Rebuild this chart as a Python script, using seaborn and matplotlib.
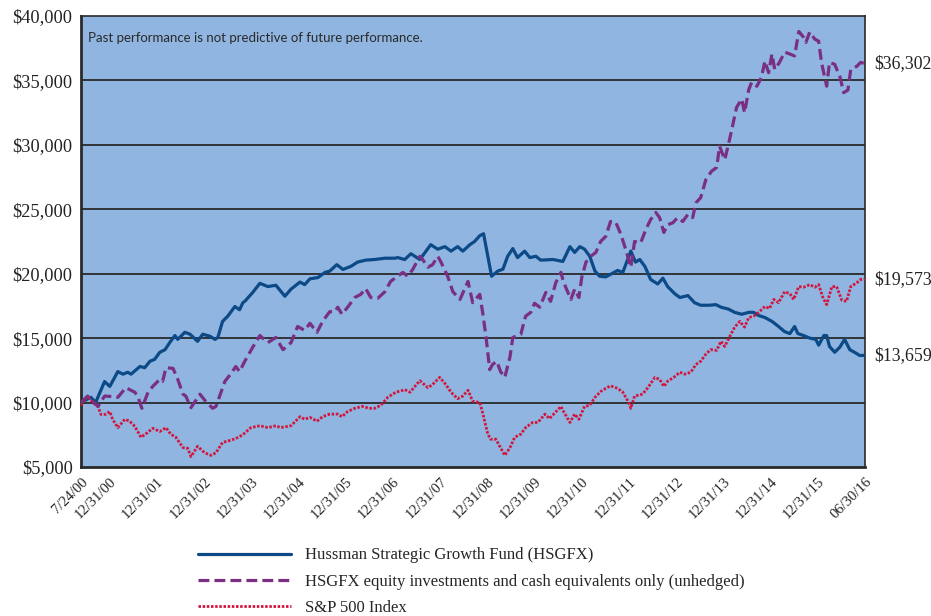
import numpy as np
import pandas as pd
import matplotlib
matplotlib.use("Agg")
import matplotlib.pyplot as plt
import seaborn as sns

# x positions are in chart years: 0 = 12/31/00 ... 15 = 12/31/15, 16 = 06/30/16
tick_pos = [-0.61] + list(range(16)) + [16]
tick_labels = ["7/24/00"] + ["12/31/%02d" % y for y in range(0, 16)] + ["06/30/16"]

# Hussman Strategic Growth Fund (HSGFX)
hsgfx_x = [-0.61, -0.40, -0.30, -0.11, 0.00, 0.17, 0.28, 0.38, 0.45, 0.64, 0.74, 0.85, 0.95,
           1.06, 1.17, 1.27, 1.38, 1.44, 1.59, 1.70, 1.86, 1.97, 2.12, 2.23, 2.29, 2.39, 2.50,
           2.65, 2.75, 2.82, 2.86, 3.03, 3.18, 3.35, 3.52, 3.71, 3.84, 4.03, 4.13, 4.24, 4.41,
           4.56, 4.66, 4.81, 4.94, 5.11, 5.25, 5.42, 5.61, 5.83, 6.04, 6.10, 6.25, 6.38, 6.57,
           6.80, 6.95, 7.10, 7.23, 7.37, 7.48, 7.63, 7.73, 7.84, 7.92, 8.01, 8.09, 8.22, 8.33,
           8.43, 8.54, 8.64, 8.79, 8.90, 9.03, 9.13, 9.39, 9.60, 9.75, 9.85, 9.96, 10.06, 10.17,
           10.28, 10.38, 10.51, 10.66, 10.76, 10.87, 11.04, 11.14, 11.23, 11.34, 11.46, 11.61,
           11.72, 11.82, 11.97, 12.08, 12.25, 12.39, 12.52, 12.71, 12.84, 12.95, 13.11, 13.24,
           13.39, 13.54, 13.64, 13.75, 13.88, 14.03, 14.17, 14.30, 14.41, 14.51, 14.58, 14.70,
           14.83, 14.96, 15.02, 15.13, 15.19, 15.25, 15.36, 15.47, 15.57, 15.68, 15.78, 15.89,
           16.00]
hsgfx_y = [10000, 10400, 10000, 11630, 11250, 12400, 12200, 12350, 12200, 12800, 12700, 13200, 13350,
           13900, 14100, 14650, 15200, 14900, 15450, 15300, 14750, 15300, 15150, 14900, 15050, 16300, 16700,
           17450, 17200, 17750, 17850, 18550, 19250, 19000, 19100, 18250, 18800, 19350, 19150, 19600, 19700,
           20100, 20200, 20700, 20330, 20570, 20900, 21050, 21100, 21200, 21200, 21250, 21100, 21550, 21100,
           22250, 21900, 22100, 21750, 22100, 21750, 22250, 22500, 22950, 23100, 21350, 19800, 20200, 20350,
           21350, 21950, 21250, 21750, 21250, 21350, 21050, 21100, 20950, 22100, 21650, 22100, 21900, 21350,
           20200, 19800, 19750, 20050, 20250, 20100, 21750, 20900, 21100, 20550, 19550, 19200,
           19650, 19000, 18450, 18150, 18300, 17750, 17550, 17550, 17600, 17400, 17250, 17000,
           16850, 17000, 17000, 16750, 16600, 16300, 15900, 15500, 15350, 15900, 15350, 15200,
           15000, 14900, 14450, 15200, 15200, 14350, 13900, 14300, 14900, 14100, 13900, 13650,
           13659]

# HSGFX equity investments and cash equivalents only (unhedged)
unhedged_x = [-0.61, -0.47, -0.25, -0.11, 0.11, 0.17, 0.34, 0.53, 0.59, 0.68, 0.81, 0.91, 1.06,
              1.12, 1.19, 1.34, 1.44, 1.55, 1.61, 1.72, 1.91, 2.03, 2.18, 2.25, 2.44, 2.56, 2.67,
              2.75, 2.86, 3.03, 3.18, 3.35, 3.52, 3.67, 3.84, 3.98, 4.13, 4.24, 4.39, 4.51, 4.66,
              4.77, 4.83, 4.92, 5.04, 5.19, 5.32, 5.42, 5.53, 5.68, 5.83, 5.95, 6.10, 6.21, 6.31,
              6.42, 6.57, 6.63, 6.74, 6.84, 6.95, 7.01, 7.16, 7.27, 7.42, 7.59, 7.69, 7.84, 7.90,
              7.97, 8.05, 8.11, 8.20, 8.28, 8.37, 8.48, 8.54, 8.71, 8.81, 8.92, 9.00, 9.11, 9.24,
              9.34, 9.45, 9.56, 9.60, 9.66, 9.77, 9.85, 9.94, 10.00, 10.09, 10.19, 10.30, 10.40,
              10.51, 10.61, 10.72, 10.83, 10.93, 11.04, 11.12, 11.25, 11.36, 11.46, 11.57, 11.65,
              11.74, 11.82, 11.93, 12.03, 12.14, 12.25, 12.35, 12.42, 12.52, 12.63, 12.75, 12.86,
              12.92, 13.03, 13.11, 13.18, 13.28, 13.39, 13.45, 13.54, 13.60, 13.71, 13.81, 13.88,
              13.96, 14.03, 14.09, 14.19, 14.30, 14.41, 14.51, 14.60, 14.70, 14.75, 14.83, 14.94,
              15.02, 15.08, 15.19, 15.25, 15.36, 15.47, 15.55, 15.64, 15.70, 15.83, 15.91, 16.00]
unhedged_y = [10000, 10500, 9700, 10500, 10450, 10400, 11150, 10800, 10500, 9550, 10800, 11250, 11800,
              11650, 12700, 12650, 11800, 10650, 10500, 9600, 10650, 10100, 9550, 9700, 11650, 12200, 12800,
              12400, 13200, 14300, 15200, 14650, 15050, 14100, 14650, 15900, 15600, 16150, 15450, 16300, 17050,
              17050, 17400, 16850, 17400, 18150, 18400, 18850, 18150, 18100, 18600, 19400, 19800, 20100, 19800,
              20330, 21350, 21100, 20500, 20700, 21350, 20950, 19800, 18600, 18000, 19400, 17750, 18400, 17000,
              15150, 12550, 12950, 13200, 12400, 11950, 13550, 15050, 15300, 16700, 17000, 17700, 17400, 18550,
              17850, 19300, 20100, 19550, 18950, 18000, 18800, 18150, 19700, 20900, 21350, 21650, 22500,
              22900, 24050, 24000, 23050, 21900, 20500, 22500, 22400, 23450, 24200, 24750, 24350,
              23200, 23800, 23950, 24350, 24050, 24600, 24350, 25500, 25900, 27300, 27950, 28250,
              29900, 28850, 30050, 31200, 32900, 33550, 32500, 34300, 34850, 34550, 35250, 36500,
              35600, 37050, 35850, 36400, 37200, 37050, 36900, 38800, 38350, 37950, 38750, 38200,
              38050, 36400, 34550, 36400, 36250, 35300, 34050, 34250, 35850, 36100, 36400, 36302]

# S&P 500 Index
sp500_x = [-0.61, -0.47, -0.36, -0.25, -0.19, -0.09, 0.00, 0.06, 0.17, 0.32, 0.42, 0.53, 0.66,
           0.76, 0.91, 1.06, 1.19, 1.29, 1.40, 1.55, 1.65, 1.72, 1.86, 2.01, 2.14, 2.25, 2.39,
           2.54, 2.67, 2.82, 2.99, 3.18, 3.35, 3.52, 3.62, 3.84, 4.03, 4.13, 4.24, 4.39, 4.51,
           4.66, 4.83, 4.92, 5.04, 5.19, 5.36, 5.49, 5.61, 5.74, 5.89, 6.06, 6.21, 6.25, 6.36,
           6.57, 6.74, 6.84, 6.99, 7.12, 7.23, 7.37, 7.48, 7.59, 7.69, 7.84, 7.90, 8.01, 8.07,
           8.18, 8.28, 8.37, 8.48, 8.58, 8.71, 8.81, 8.96, 9.07, 9.22, 9.32, 9.43, 9.56, 9.60,
           9.75, 9.85, 9.94, 10.06, 10.17, 10.28, 10.40, 10.51, 10.61, 10.76, 10.87, 10.98, 11.04,
           11.12, 11.29, 11.40, 11.55, 11.65, 11.74, 11.82, 11.95, 12.08, 12.18, 12.31, 12.42,
           12.52, 12.63, 12.73, 12.86, 12.95, 13.03, 13.14, 13.24, 13.35, 13.45, 13.54, 13.64,
           13.75, 13.88, 13.98, 14.07, 14.17, 14.30, 14.41, 14.49, 14.60, 14.70, 14.83, 14.94,
           15.02, 15.11, 15.19, 15.30, 15.40, 15.51, 15.61, 15.70, 15.83, 15.91, 16.00]
sp500_y = [9780, 10500, 10000, 9700, 9080, 9080, 9300, 8700, 8050, 8700, 8550, 8150, 7300,
           7550, 8000, 7750, 8050, 7550, 7300, 6500, 6450, 5800, 6600, 6100, 5900, 6100, 6900,
           7050, 7200, 7500, 8050, 8200, 8050, 8200, 8050, 8200, 8900, 8700, 8850, 8550, 8900,
           9100, 9100, 8900, 9300, 9550, 9700, 9550, 9550, 9780, 10400, 10800, 10950, 11000, 10800,
           11700, 11150, 11400, 11950, 11400, 10800, 10300, 10500, 10950, 10100, 10000, 9200, 7550, 7150,
           7150, 6500, 5900, 6500, 7300, 7550, 8050, 8450, 8450, 9100, 8750, 9200, 9700, 9400,
           8450, 9100, 8700, 9700, 9780, 10400, 10850, 11100, 11300, 11100, 10800, 10100, 9550,
           10500, 10650, 11150, 11950, 11800, 11250, 11650, 11950, 12350, 12200, 12350, 12950,
           13200, 13750, 14100, 14050, 14750, 14350, 15150, 15850, 16300, 15850, 16600, 16700,
           17000, 17450, 17300, 18000, 17750, 18600, 18450, 18000, 19000, 18950, 19150, 18950,
           19150, 18150, 17600, 19000, 19000, 17950, 17850, 19000, 19300, 19550, 19573]

end_labels = ["$36,302", "$19,573", "$13,659"]
note = "Past performance is not predictive of future performance."

blue = "#0b4a87"
purple = "#7a2f83"
red = "#d4143c"

sns.set_theme(style="white")
plt.rcParams["font.family"] = ["Liberation Serif", "DejaVu Serif"]

fig = plt.figure(figsize=(9.31, 6.16), dpi=100)
ax = fig.add_axes([0.087, 0.242, 0.842, 0.732])
ax.set_facecolor("#8fb5e0")

df_h = pd.DataFrame({"x": hsgfx_x, "y": hsgfx_y})
df_u = pd.DataFrame({"x": unhedged_x, "y": unhedged_y})
df_s = pd.DataFrame({"x": sp500_x, "y": sp500_y})

sns.lineplot(data=df_h, x="x", y="y", ax=ax, color=blue, linewidth=2.3, sort=False,
             estimator=None, label="Hussman Strategic Growth Fund (HSGFX)", zorder=3)
sns.lineplot(data=df_u, x="x", y="y", ax=ax, color=purple, linewidth=2.3, sort=False,
             estimator=None, linestyle=(0, (3.4, 1.6)),
             label="HSGFX equity investments and cash equivalents only (unhedged)", zorder=4)
sns.lineplot(data=df_s, x="x", y="y", ax=ax, color=red, linewidth=2.0, sort=False,
             estimator=None, linestyle=(0, (0.9, 0.6)), label="S&P 500 Index", zorder=3)

ax.set_xlim(-0.61, 16)
ax.set_ylim(5000, 40000)
yt = np.arange(5000, 40001, 5000)
ax.set_yticks(yt)
ax.set_yticklabels(["${:,.0f}".format(v) for v in yt], fontsize=13.2, color="#222222")
for v in yt[1:-1]:
    ax.axhline(v, color="#2a2a2a", linewidth=1.3, zorder=1)

ax.set_xticks(tick_pos)
ax.set_xticklabels(tick_labels, rotation=45, ha="right", rotation_mode="anchor",
                   fontsize=10.5, color="#222222")
ax.tick_params(axis="x", direction="in", length=7, width=1.2, color="#333333", pad=6)
ax.tick_params(axis="y", length=0, pad=6)
ax.set_xlabel("")
ax.set_ylabel("")

for s in ax.spines.values():
    s.set_color("#2a2a2a")
    s.set_linewidth(1.2)
ax.spines["left"].set_linewidth(2)
ax.spines["bottom"].set_linewidth(2)

ax.text(0.009, 0.965, note, transform=ax.transAxes, fontsize=9.5, family="Lato",
        color="#2a2a2a", va="top", ha="left")

for val, lab in zip([unhedged_y[-1], sp500_y[-1], hsgfx_y[-1]], end_labels):
    ax.annotate(lab, xy=(unhedged_x[-1], val), xytext=(7, 0), textcoords="offset points",
                va="center", ha="left", fontsize=12.8, color="#222222", annotation_clip=False)

ax.legend(loc="upper left", bbox_to_anchor=(0.2035, 0.125), bbox_transform=fig.transFigure,
          frameon=False, fontsize=12, handlelength=5.6, handletextpad=0.85,
          labelspacing=0.62, borderpad=0)

fig.savefig("out.png", dpi=100)
